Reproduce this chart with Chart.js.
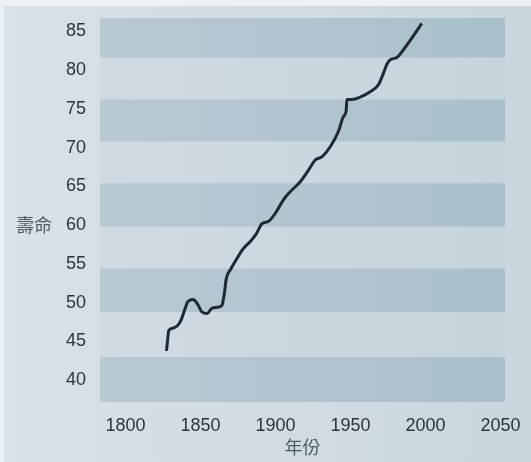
<!DOCTYPE html>
<html>
<head>
<meta charset="utf-8">
<script src="https://cdn.jsdelivr.net/npm/chart.js@4/dist/chart.umd.min.js"></script>
<style>
  html, body { margin: 0; padding: 0; background: #d7e0e6; }
  #wrap { width: 531px; height: 462px; position: relative; }
</style>
</head>
<body>
<div id="wrap"><canvas id="c" width="531" height="462"></canvas></div>
<script>
// Data
const years = [1827.3, 1828.1, 1828.8, 1831.1, 1834.4, 1837.1, 1839.3, 1841.5, 1845.1, 1848.1,
               1851.0, 1854.4, 1857.7, 1861.0, 1864.4, 1865.9, 1867.2, 1870.4, 1874.3, 1878.3,
               1883.2, 1887.3, 1891.0, 1895.4, 1899.8, 1905.4, 1909.8, 1916.5, 1922.0, 1926.5,
               1930.9, 1936.5, 1942.0, 1945.3, 1947.1, 1947.6, 1950.9, 1956.4, 1963.1, 1968.6,
               1972.0, 1974.2, 1976.4, 1980.9, 1986.4, 1991.9, 1997.5];
const lifeExpectancy = [43.8, 45.2, 46.4, 46.7, 47.0, 47.8, 49.0, 50.1, 50.4, 49.8,
                        48.8, 48.6, 49.3, 49.4, 49.7, 51.2, 53.1, 54.4, 55.7, 56.9,
                        57.9, 58.9, 60.2, 60.5, 61.5, 63.3, 64.3, 65.6, 67.1, 68.4,
                        68.8, 70.1, 72.1, 74.0, 74.7, 76.2, 76.2, 76.5, 77.2, 78.1,
                        79.6, 80.7, 81.3, 81.6, 82.9, 84.4, 86.0];
const xTicks = [1800, 1850, 1900, 1950, 2000, 2050];
const yTicks = [40, 45, 50, 55, 60, 65, 70, 75, 80, 85];
const bandLow = [37.2, 48.8, 59.8, 70.8, 81.6];
const bandHigh = [43.0, 54.4, 65.4, 76.2, 86.7];
const xTitle = '年份';
const yTitle = '壽命';

const points = years.map((y, i) => ({ x: y, y: lifeExpectancy[i] }));

function hGrad(ctx, x0, x1, c0, c1) {
  const g = ctx.createLinearGradient(x0, 0, x1, 0);
  g.addColorStop(0, c0);
  g.addColorStop(1, c1);
  return g;
}

const bgPlugin = {
  id: 'bg',
  beforeDraw(chart) {
    const { ctx, chartArea: a, scales } = chart;
    ctx.save();
    ctx.fillStyle = hGrad(ctx, 0, chart.width, '#dae1e7', '#c9d6de');
    ctx.fillRect(0, 0, chart.width, chart.height);
    ctx.fillStyle = '#eef1f4';
    ctx.fillRect(0, 0, chart.width, 6);
    ctx.fillRect(0, 0, 4, chart.height);
    ctx.fillStyle = hGrad(ctx, a.left, a.right, '#d0dae2', '#c6d4dc');
    ctx.fillRect(a.left, a.top, a.right - a.left, a.bottom - a.top);
    ctx.fillStyle = hGrad(ctx, a.left, a.right, '#b9c9d4', '#a9c0cb');
    const y = scales.y;
    for (let i = 0; i < bandLow.length; i++) {
      const top = y.getPixelForValue(bandHigh[i]);
      const bot = y.getPixelForValue(bandLow[i]);
      ctx.fillRect(a.left, top, a.right - a.left, bot - top);
    }
    ctx.restore();
  },
  afterDraw(chart) {
    const { ctx, scales } = chart;
    ctx.save();
    ctx.fillStyle = '#4e5a64';
    ctx.font = '18px "Noto Sans CJK TC", "Noto Sans CJK SC", sans-serif';
    ctx.textAlign = 'center';
    ctx.textBaseline = 'middle';
    ctx.fillText(yTitle, 34, scales.y.getPixelForValue(60));
    ctx.restore();
  }
};

new Chart(document.getElementById('c'), {
  type: 'line',
  data: {
    datasets: [{
      data: points,
      borderColor: '#1d2a36',
      borderWidth: 3,
      pointRadius: 0,
      fill: false,
      cubicInterpolationMode: 'monotone'
    }]
  },
  options: {
    responsive: false,
    animation: false,
    devicePixelRatio: 1,
    layout: { padding: { top: 18, right: 26, left: 0, bottom: 0 } },
    plugins: { legend: { display: false }, tooltip: { enabled: false } },
    scales: {
      x: {
        type: 'linear',
        min: 1783,
        max: 2053,
        grid: { display: false },
        border: { display: false },
        afterBuildTicks(s) { s.ticks = xTicks.map(v => ({ value: v })); },
        afterFit(s) { s.height = 60; },
        ticks: {
          padding: 5,
          color: '#2d353c',
          font: { family: '"Liberation Sans", Arial, sans-serif', size: 18 },
          maxRotation: 0,
          callback: v => String(v)
        },
        title: {
          display: true,
          text: xTitle,
          color: '#4e5a64',
          padding: { top: 0, bottom: 4 },
          font: { family: '"Noto Sans CJK TC", "Noto Sans CJK SC", sans-serif', size: 18 }
        }
      },
      y: {
        type: 'linear',
        min: 37.2,
        max: 86.7,
        grid: { display: false },
        border: { display: false },
        afterBuildTicks(s) { s.ticks = yTicks.map(v => ({ value: v })); },
        afterFit(s) { s.width = 100; },
        ticks: {
          padding: 6,
          color: '#2d353c',
          font: { family: '"Liberation Sans", Arial, sans-serif', size: 18 },
          callback: v => String(v)
        }
      }
    }
  },
  plugins: [bgPlugin]
});
</script>
</body>
</html>
